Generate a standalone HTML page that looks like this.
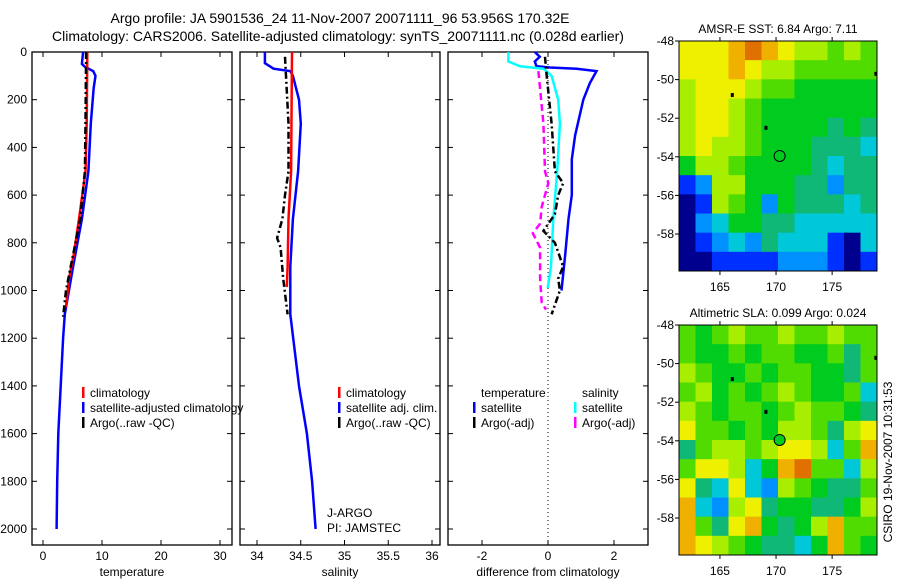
<!DOCTYPE html>
<html><head><meta charset="utf-8"><style>
body{margin:0;background:#fff}
svg{display:block;font-family:"Liberation Sans",sans-serif}
</style></head><body>
<svg id="c" width="900" height="580">
<text x="340" y="23" font-size="14" text-anchor="middle">Argo profile: JA 5901536_24 11-Nov-2007 20071111_96 53.956S 170.32E</text>
<text x="338" y="41" font-size="14" text-anchor="middle">Climatology: CARS2006. Satellite-adjusted climatology: synTS_20071111.nc (0.028d earlier)</text>
</svg>
<script>
// ---- data ----
const depthTicks=[0,200,400,600,800,1000,1200,1400,1600,1800,2000];
const tempTicks=[0,10,20,30];
const salTicks=[34,34.5,35,35.5,36];
const diffTicks=[-2,0,2];
const tClimD=[0,300,500,700,850,950,1070];
const tClimV=[7.5,7.4,7.2,6.1,5.2,4.4,3.9];
const tSatD=[0,50,60,80,100,150,300,500,700,900,1100,1200,1400,1600,1800,2000];
const tSatV=[6.8,6.6,7.0,8.5,8.9,8.6,8.1,7.7,6.6,5.1,3.7,3.4,3.0,2.6,2.4,2.3];
const tArgD=[0,300,500,700,800,900,1000,1110];
const tArgV=[7.3,7.2,7.1,6.3,5.5,4.7,3.9,3.4];
const sClimD=[0,500,700,900,985];
const sClimV=[34.40,34.39,34.36,34.35,34.34];
const sSatD=[0,47,70,80,100,200,300,500,700,900,1100,1400,1600,1800,2000];
const sSatV=[34.09,34.09,34.19,34.38,34.41,34.48,34.50,34.47,34.41,34.38,34.38,34.48,34.57,34.63,34.67];
const sArgD=[20,300,500,600,700,780,820,950,1100];
const sArgV=[34.32,34.36,34.36,34.32,34.29,34.23,34.27,34.30,34.35];
const dTSatD=[0,20,40,60,65,70,80,130,200,350,450,600,700,850,1000];
const dTSatV=[-0.4,-0.25,-0.4,-0.35,0.06,0.87,1.47,1.27,1.07,0.82,0.72,0.72,0.62,0.52,0.41];
const dSSatD=[0,40,60,70,100,200,300,500,700,900,990];
const dSSatV=[-1.2,-1.2,-0.85,-0.14,0.11,0.31,0.36,0.28,0.16,0.09,-0.01];
const dTArgD=[20,100,300,500,550,600,680,750,800,900,950,1000,1100];
const dTArgV=[-0.09,-0.04,0.11,0.21,0.46,0.31,0.21,-0.14,0.21,0.46,0.31,0.36,0.11];
const dSArgD=[80,300,500,550,650,720,760,820,950,1050,1080];
const dSArgV=[-0.29,-0.14,-0.09,0.01,-0.19,-0.24,-0.46,-0.24,-0.24,-0.19,-0.06];
const lonTicks=[165,170,175];
const latTicks=[-48,-50,-52,-54,-56,-58];
const sstGrid=[
[8,8,8,9,10,9,8,7,7,6,7,6],
[8,8,8,9,8,7,7,6,6,6,6,6],
[7,8,8,8,7,6,6,5,5,5,5,5],
[7,8,8,7,6,5,5,5,5,5,5,5],
[7,8,8,7,6,5,5,5,5,4,5,4],
[7,8,7,7,6,5,5,5,4,4,4,3],
[5,7,7,6,5,5,5,5,4,3,4,4],
[1,2,7,7,5,5,5,4,4,2,4,4],
[0,1,7,6,5,2,5,4,4,4,3,4],
[0,2,3,5,5,4,4,3,3,3,3,3],
[0,1,2,3,2,4,3,3,3,1,0,3],
[0,0,1,1,1,1,2,2,2,1,0,1]];
const slaGrid=[
[6,5,6,7,6,6,7,6,6,7,6,6],
[6,5,5,6,5,6,6,5,5,6,4,6],
[7,6,5,5,6,5,6,6,5,5,4,6],
[6,7,5,6,5,6,7,6,5,5,6,3],
[7,6,5,6,6,5,6,7,6,6,5,4],
[8,6,6,5,6,5,7,7,6,4,7,8],
[4,6,7,7,6,7,8,8,7,3,6,9],
[6,8,8,7,3,5,9,10,6,6,3,7],
[8,4,3,8,3,2,7,6,5,4,4,6],
[9,3,2,7,8,4,5,5,4,4,5,7],
[9,6,4,8,9,5,4,5,7,9,6,6],
[9,8,7,6,5,4,4,3,5,9,6,5]];
const sstTitle="AMSR-E SST: 6.84 Argo: 7.11";
const slaTitle="Altimetric SLA: 0.099 Argo: 0.024";
const argoLon=170.32, argoLat=-53.956;
// ---- drawing ----
const NS="http://www.w3.org/2000/svg";
const svg=document.getElementById('c');
function mk(tag,at,parent){const e=document.createElementNS(NS,tag);for(const k in at)e.setAttribute(k,at[k]);(parent||svg).appendChild(e);return e;}
function txt(s,at){const e=mk('text',at);e.textContent=s;return e;}
const Y0=52,Y1=545;
const yD=d=>Y0+d*0.2385;
function panel(x0,x1,xs,ticks,fmt,label,name){
  const r=mk('rect',{x:x0,y:Y0,width:x1-x0,height:Y1-Y0,fill:'none',stroke:'#000','stroke-width':1.3});
  
  
  depthTicks.forEach(d=>{const y=yD(d);
    const t1=mk('line',{x1:x0,x2:x0+5,y1:y,y2:y,stroke:'#000'});
    const t2=mk('line',{x1:x1-5,x2:x1,y1:y,y2:y,stroke:'#000'});
    if(name==='temperature'){const l=txt(String(d),{x:x0-5,y:y+4,'font-size':12,'text-anchor':'end'});}
  });
  ticks.forEach(v=>{const x=xs(v);
    const t1=mk('line',{x1:x,x2:x,y1:Y0,y2:Y0+5,stroke:'#000'});
    const t2=mk('line',{x1:x,x2:x,y1:Y1-5,y2:Y1,stroke:'#000'});
    const l=txt(fmt(v),{x:x,y:Y1+15,'font-size':12,'text-anchor':'middle'});
  });
  const t=txt(label,{x:(x0+x1)/2,y:Y1+31,'font-size':12,'text-anchor':'middle'});
  
}
function line(xs,D,V,color,dash,w,name){
  const p=D.map((d,i)=>xs(V[i]).toFixed(1)+','+yD(d).toFixed(1)).join(' ');
  const e=mk('polyline',{points:p,fill:'none',stroke:color,'stroke-width':w||2.5,'stroke-dasharray':dash||'none'});
  
}
function leg(x,y,color,s,name){
  const b=mk('rect',{x:x,y:y-10,width:2.5,height:11,fill:color});
  const t=txt(s,{x:x+8,y:y,'font-size':12});
}
const xT=v=>43+5.9*v, xS=v=>257+87.5*(v-34), xDf=v=>548+33*v;
panel(32,232,xT,tempTicks,String,'temperature','temperature');
panel(240,440,xS,salTicks,String,'salinity','salinity');
panel(448,648,xDf,diffTicks,String,'difference from climatology','difference');
line(xT,tSatD,tSatV,'#0000ff',null,2.5,'temp-satellite-line');
line(xT,tClimD,tClimV,'#ff0000',null,2.5,'temp-climatology-line');
line(xT,tArgD,tArgV,'#000','7,3,2,3',2.5,'temp-argo-line');
line(xS,sSatD,sSatV,'#0000ff',null,2.5,'sal-satellite-line');
line(xS,sClimD,sClimV,'#ff0000',null,2.5,'sal-climatology-line');
line(xS,sArgD,sArgV,'#000','7,3,2,3',2.5,'sal-argo-line');
const z=mk('line',{x1:xDf(0),x2:xDf(0),y1:Y0,y2:Y1,stroke:'#000','stroke-dasharray':'1,3'});

line(xDf,dTSatD,dTSatV,'#0000ff',null,2.5,'diff-temp-satellite-line');
line(xDf,dSSatD,dSSatV,'#00ffff',null,2.5,'diff-sal-satellite-line');
line(xDf,dTArgD,dTArgV,'#000','7,3,2,3',2.5,'diff-temp-argo-line');
line(xDf,dSArgD,dSArgV,'#ff00ff','7,4',2.5,'diff-sal-argo-line');
leg(82,397,'#ff0000','climatology','legend-climatology');
leg(82,412,'#0000ff','satellite-adjusted climatology','legend-satellite');
leg(82,427,'#000','Argo(..raw -QC)','legend-argo');
leg(338,397,'#ff0000','climatology','legend2-climatology');
leg(338,412,'#0000ff','satellite adj. clim.','legend2-satellite');
leg(338,427,'#000','Argo(..raw -QC)','legend2-argo');
{const t=txt('temperature',{x:481,y:397,'font-size':12});
 const s=txt('salinity',{x:582,y:397,'font-size':12});}
leg(473,412,'#0000ff','satellite','legend3-temp-satellite');
leg(473,427,'#000','Argo(-adj)','legend3-temp-argo');
leg(574,412,'#00ffff','satellite','legend3-sal-satellite');
leg(574,427,'#ff00ff','Argo(-adj)','legend3-sal-argo');
{const a=txt('J-ARGO',{x:327,y:517,'font-size':12});
 const b=txt('PI: JAMSTEC',{x:327,y:532,'font-size':12});}
// maps
const pal=['#00008f','#0030ff','#0090ff','#00c8d8','#10b878','#00cc20','#50dc00','#a8ee00','#eef000','#f0b000','#e07000','#b04000'];
const MX0=679,MX1=877,LON0=161.35,LON1=179.0;
function map(top,grid,title,name,filled){
  const h=230, lx=v=>MX0+(v-LON0)*(MX1-MX0)/(LON1-LON0), ly=v=>top+(-48-v)*19.3;
  const rows=grid.length, cols=grid[0].length, cw=(MX1-MX0)/cols, ch=h/rows;
  grid.forEach((row,r)=>{row.forEach((lev,c)=>{
    const e=mk('rect',{x:(MX0+c*cw).toFixed(2),y:(top+r*ch).toFixed(2),width:(cw+0.5).toFixed(2),height:(ch+0.5).toFixed(2),fill:pal[Math.max(0,Math.min(11,lev))]});
    });});
  const b=mk('rect',{x:MX0,y:top,width:MX1-MX0,height:h,fill:'none',stroke:'#000'});
  latTicks.forEach(v=>{const y=ly(v);
    const t=mk('line',{x1:MX0-4,x2:MX0,y1:y,y2:y,stroke:'#000'});
    const l=txt(String(v),{x:MX0-5,y:y+4,'font-size':12,'text-anchor':'end'});});
  lonTicks.forEach(v=>{const x=lx(v);
    const t=mk('line',{x1:x,x2:x,y1:top-4,y2:top,stroke:'#000'});
    const t2=mk('line',{x1:x,x2:x,y1:top+h,y2:top+h+4,stroke:'#000'});
    const l=txt(String(v),{x:x,y:top+h+20,'font-size':12,'text-anchor':'middle'});});
  const tt=txt(title,{x:(MX0+MX1)/2,y:top-8,'font-size':12,'text-anchor':'middle'});
  const c=mk('circle',{cx:lx(argoLon),cy:ly(argoLat),r:5.5,fill:filled?'#00cc20':'none',stroke:'#000'});
  [[166.1,-50.8],[169.1,-52.5],[178.9,-49.7]].forEach(p=>{const d=mk('rect',{x:lx(p[0])-1.5,y:ly(p[1])-2,width:3,height:4,fill:'#000'});});
}
map(41,sstGrid,sstTitle,'sst-map',false);
map(325,slaGrid,slaTitle,'sla-map',true);
{const t=txt('CSIRO 19-Nov-2007 10:31:53',{x:0,y:0,'font-size':12,transform:'translate(892,462) rotate(-90)','text-anchor':'middle'});
 }
</script>
</body></html>
